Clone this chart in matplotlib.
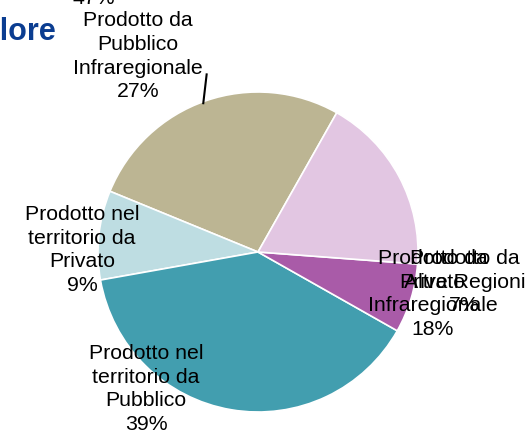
import matplotlib
matplotlib.use("Agg")
import matplotlib.pyplot as plt

plt.rcParams['font.family'] = ['Liberation Sans', 'DejaVu Sans']

# slices, counterclockwise from the top-right boundary
labels = ['Prodotto da\nPubblico\nInfraregionale',
          'Prodotto nel\nterritorio da\nPrivato',
          'Prodotto nel\nterritorio da\nPubblico',
          'Prodotto da\nAltre Regioni',
          'Prodotto da\nPrivato\nInfraregionale']
values = [27, 9, 39, 7, 18]
colors = ['#BCB593', '#BEDDE2', '#429EAF', '#A95BA8', '#E2C6E2']

# label anchors (centre x, top y) in pie-radius units
label_pos = [(-0.75, 1.51), (-1.10, 0.30), (-0.70, -0.57), (1.29, 0.025), (1.09, 0.025)]

fig = plt.figure(figsize=(5.29, 4.35), dpi=100)
ax = fig.add_axes([98 / 529, 22 / 435, 320 / 529, 320 / 435])
ax.pie(values, colors=colors, startangle=60.5, counterclock=True, radius=1,
       wedgeprops=dict(edgecolor='white', linewidth=1.2))
ax.set_xlim(-1, 1)
ax.set_ylim(-1, 1)
ax.set_aspect('auto')
ax.axis('off')

for lab, v, (x, y) in zip(labels, values, label_pos):
    ax.text(x, y, f"{lab}\n{v}%", ha='center', va='top', fontsize=15.3,
            color='black', linespacing=1.31, multialignment='center')

# leader line for the top label
ax.plot([-0.321, -0.342], [1.11, 0.93], color='black', lw=1.5, clip_on=False)

# stray label from neighbouring chart, cut at the top
ax.text(-1.025, 1.556, "47%", ha='center', va='baseline', fontsize=15.3)

# cut-off title
fig.text(57 / 529, 1 - 40 / 435, "Valore", ha='right', va='baseline',
         fontsize=22, fontweight='bold', color='#0B3D91')

fig.savefig('out.png', dpi=100)
